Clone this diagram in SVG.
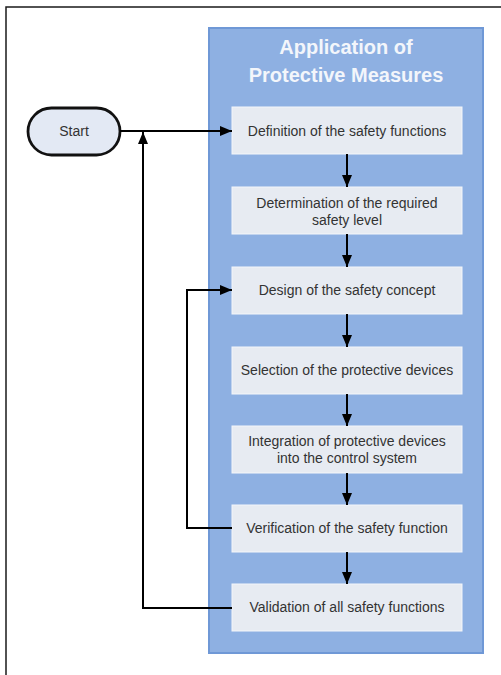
<svg xmlns="http://www.w3.org/2000/svg" width="501" height="675" viewBox="0 0 501 675">
<defs>
<style>
.frame{fill:none;stroke:#1a1a1a;stroke-width:1.5}
.panel{fill:#8eb0e2;stroke:#6f98d6;stroke-width:2}
.title{font-family:"Liberation Sans",Arial,sans-serif;font-weight:bold;font-size:20px;fill:#f3f6fb;text-anchor:middle}
.box{fill:#e7ebf2;stroke:#f4f6fa;stroke-width:1}
.lbl{font-family:"Liberation Sans",Arial,sans-serif;font-size:14px;fill:#333333;text-anchor:middle;dominant-baseline:central}
.start{fill:#e3e9f4;stroke:#111;stroke-width:2.8}
.conn{fill:none;stroke:#000;stroke-width:2}
</style>
<marker id="arr" markerUnits="userSpaceOnUse" markerWidth="12" markerHeight="10" refX="12" refY="5" orient="auto">
<path d="M0,0 L12,5 L0,10 Z" fill="#000"/>
</marker>
</defs>
<rect width="501" height="675" fill="#ffffff"/>
<path class="frame" d="M6,675 V7 H501"/>
<g id="panel">
<rect class="panel" x="209" y="28" width="274" height="625"/>
<text class="title" x="346" y="54">Application of</text>
<text class="title" x="346" y="82">Protective Measures</text>
</g>
<g id="start">
<rect class="start" x="28" y="108" width="92" height="47" rx="23.5"/>
<text class="lbl" x="74" y="131">Start</text>
</g>
<g id="n1">
<rect class="box" x="232" y="107" width="230" height="47"/>
<text class="lbl" x="347" y="131">Definition of the safety functions</text>
</g>
<g id="n2">
<rect class="box" x="232" y="187" width="230" height="47"/>
<text class="lbl" x="347" y="203">Determination of the required</text>
<text class="lbl" x="347" y="220">safety level</text>
</g>
<g id="n3">
<rect class="box" x="232" y="267" width="230" height="47"/>
<text class="lbl" x="347" y="290">Design of the safety concept</text>
</g>
<g id="n4">
<rect class="box" x="232" y="347" width="230" height="47"/>
<text class="lbl" x="347" y="370">Selection of the protective devices</text>
</g>
<g id="n5">
<rect class="box" x="232" y="426" width="230" height="47"/>
<text class="lbl" x="347" y="441">Integration of protective devices</text>
<text class="lbl" x="347" y="458">into the control system</text>
</g>
<g id="n6">
<rect class="box" x="232" y="505" width="230" height="47"/>
<text class="lbl" x="347" y="528">Verification of the safety function</text>
</g>
<g id="n7">
<rect class="box" x="232" y="584" width="230" height="47"/>
<text class="lbl" x="347" y="607">Validation of all safety functions</text>
</g>
<g id="connectors">
<path class="conn" d="M120,131 H232" marker-end="url(#arr)"/>
<path class="conn" d="M347,154 V187" marker-end="url(#arr)"/>
<path class="conn" d="M347,234 V267" marker-end="url(#arr)"/>
<path class="conn" d="M347,314 V347" marker-end="url(#arr)"/>
<path class="conn" d="M347,394 V426" marker-end="url(#arr)"/>
<path class="conn" d="M347,473 V505" marker-end="url(#arr)"/>
<path class="conn" d="M347,552 V584" marker-end="url(#arr)"/>
<path class="conn" d="M232,528 H187 V290 H232" marker-end="url(#arr)"/>
<path class="conn" d="M232,608 H143 V132" marker-end="url(#arr)"/>
</g>
</svg>
